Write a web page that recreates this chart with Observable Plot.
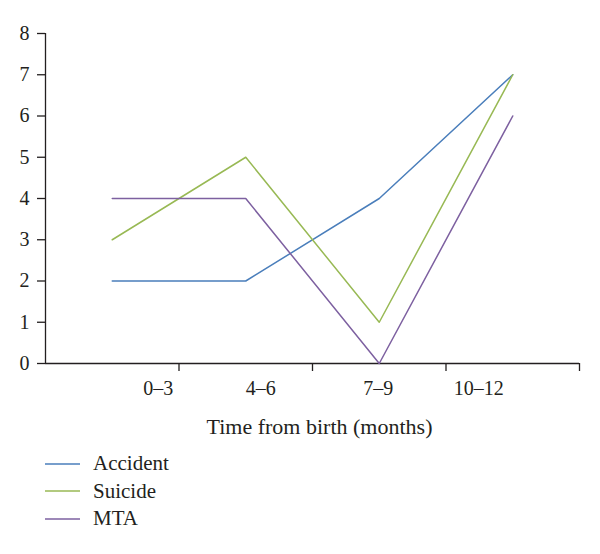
<!DOCTYPE html>
<html>
<head>
<meta charset="utf-8">
<script src="https://cdn.jsdelivr.net/npm/d3@7"></script>
<script src="https://cdn.jsdelivr.net/npm/@observablehq/plot@0.6"></script>
<style>
  html, body { margin: 0; padding: 0; background: #fff; }
  body { width: 600px; height: 554px; overflow: hidden; font-family: "Liberation Serif", "DejaVu Serif", serif; color: #231f20; }
  #legend { margin-top: 10px; }
  .row { display: flex; align-items: center; height: 27.5px; font-size: 21px; }
  .row svg { margin-left: 45px; margin-right: 13px; }
</style>
</head>
<body>
<div id="chart"></div>
<div id="legend"></div>
<script>
const categories = ["0–3", "4–6", "7–9", "10–12"];
const accident = [2, 2, 4, 7];
const suicide = [3, 5, 1, 7];
const mta = [4, 4, 0, 6];
const seriesNames = ["Accident", "Suicide", "MTA"];
const seriesColors = ["#4a7ebb", "#98b954", "#7d60a0"];
const yTicks = [0, 1, 2, 3, 4, 5, 6, 7, 8];
const xTitle = "Time from birth (months)";

const seriesValues = [accident, suicide, mta];
const rows = [];
seriesNames.forEach((s, si) => {
  seriesValues[si].forEach((v, i) => rows.push({series: s, idx: i, value: v}));
});

// label shifts mimicking the original's offset category labels
const labelShift = [46, 15, -1, -34];
const boundaries = categories.map((c, i) => i + 0.5);

const plot = Plot.plot({
  width: 600,
  height: 440,
  marginTop: 33,
  marginBottom: 77,
  marginLeft: 45,
  marginRight: 21,
  style: {fontFamily: '"Liberation Serif", "DejaVu Serif", serif', fontSize: "20px", color: "#231f20", background: "#fff"},
  x: {type: "linear", domain: [-0.5, categories.length - 0.5]},
  y: {domain: [0, 8]},
  color: {domain: seriesNames, range: seriesColors},
  marks: [
    Plot.axisY(yTicks, {tickSize: 8, tickFormat: () => "", stroke: "#231f20", strokeWidth: 1.3, label: null}),
    Plot.text(yTicks, {x: -0.5, y: d => d, text: d => String(d), textAnchor: "end", dx: -16, fontSize: 20, fill: "#231f20"}),
    Plot.axisX(boundaries, {tickSize: 8, tickFormat: () => "", stroke: "#231f20", strokeWidth: 1.3, label: null}),
    ...categories.map((c, i) => Plot.text([c], {x: () => i, y: () => 0, text: d => d, dy: 25, dx: labelShift[i], fontSize: 20, fill: "#231f20"})),
    Plot.text([xTitle], {frameAnchor: "bottom", dy: 70, dx: 7, fontSize: 22, fill: "#231f20", text: d => d}),
    Plot.ruleY([0], {stroke: "#231f20", strokeWidth: 1.3}),
    Plot.ruleX([-0.5], {y1: 0, y2: 8, stroke: "#231f20", strokeWidth: 1.3}),
    Plot.line(rows, {x: "idx", y: "value", z: "series", stroke: "series", strokeWidth: 1.5})
  ]
});
document.getElementById("chart").appendChild(plot);

const legend = document.getElementById("legend");
seriesNames.forEach((s, i) => {
  const row = document.createElement("div");
  row.className = "row";
  row.innerHTML = `<svg width="35" height="4"><line x1="0" x2="35" y1="2" y2="2" stroke="${seriesColors[i]}" stroke-width="1.5"/></svg><span>${s}</span>`;
  legend.appendChild(row);
});
</script>
</body>
</html>
